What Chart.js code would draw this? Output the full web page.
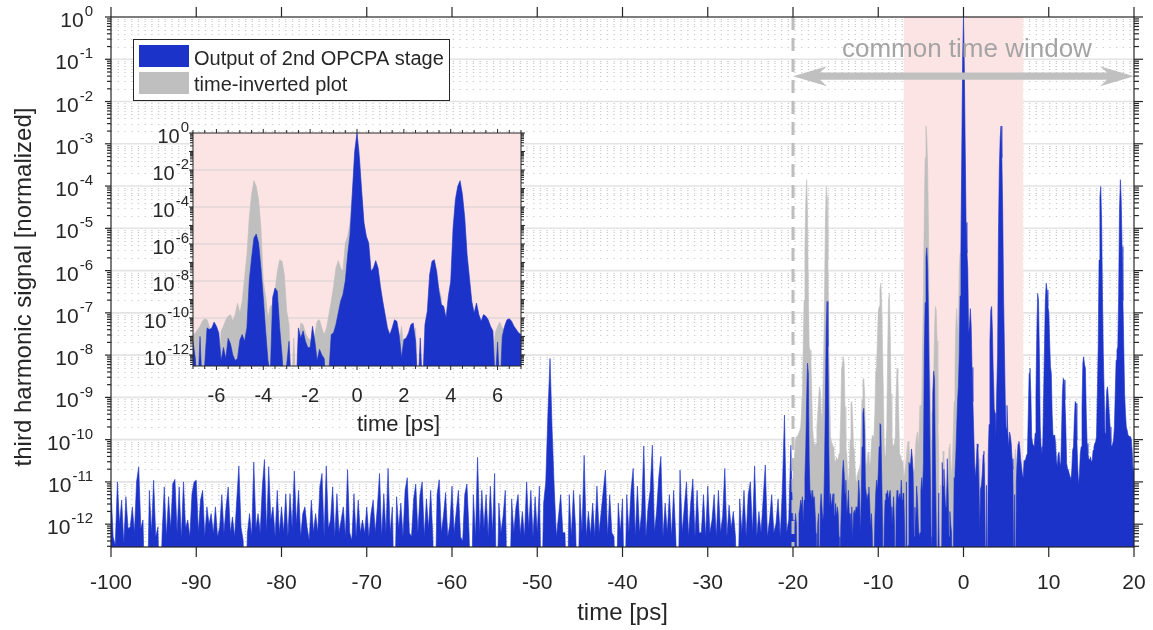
<!DOCTYPE html>
<html>
<head>
<meta charset="utf-8">
<script src="https://cdn.jsdelivr.net/npm/chart.js@4/dist/chart.umd.min.js"></script>
<style>
  html, body { margin: 0; padding: 0; background: #fff; }
  #wrap { position: relative; width: 1153px; height: 630px; }
  #wrap canvas { position: absolute; left: 0; top: 0; }
</style>
</head>
<body>
<div id="wrap">
  <canvas id="mainChart" width="1153" height="630"></canvas>
  <canvas id="insetChart" width="1153" height="630"></canvas>
</div>
<script>
// third harmonic signal, stored as log10 of the normalized value
// background part: -100 ps .. -20.25 ps, one value every 0.25 ps
const noiseStart = -100;
const noiseStep = 0.25;
const noiseExp = [
  -11.2, -12.3, -12.5, -11.0, -12.0, -11.43, -12.46, -11.35,      // -100
  -12.1, -12.07, -11.59, -12.2, -11.0, -10.64, -12.1, -11.9,      // -98
  -14, -14, -11.2, -12.2, -10.96, -12.3, -12.07, -14,             // -96
  -12.22, -11.12, -12.3, -11.35, -12.1, -11.04, -10.94, -12.2,    // -94
  -11.12, -12.35, -11.0, -12.1, -11.9, -12.3, -11.28, -11.0,      // -92
  -10.96, -12.2, -11.43, -11.2, -12.3, -11.59, -12.0, -11.75,     // -90
  -12.22, -11.59, -12.3, -12.07, -11.3, -12.2, -11.59, -11.12,    // -88
  -12.2, -11.83, -12.3, -11.43, -10.62, -12.07, -12.38, -14,      // -86
  -12.22, -11.75, -12.3, -10.53, -12.1, -11.75, -12.2, -11.12,    // -84
  -10.47, -12.2, -10.64, -11.9, -11.59, -12.3, -11.2, -12.22,     // -82
  -11.59, -12.2, -11.28, -12.3, -11.28, -12.1, -10.74, -12.0,     // -80
  -11.2, -12.3, -11.75, -11.59, -12.07, -12.38, -11.43, -12.2,    // -78
  -11.75, -12.2, -11.12, -10.8, -12.3, -10.62, -12.1, -11.9,      // -76
  -11.12, -12.3, -11.28, -12.2, -11.9, -11.59, -12.3, -10.71,     // -74
  -12.2, -12.38, -11.28, -12.3, -11.43, -12.2, -11.9, -12.22,     // -72
  -11.59, -12.3, -11.75, -11.43, -12.2, -11.59, -10.8, -12.3,     // -70
  -11.28, -12.2, -10.68, -12.22, -11.59, -14, -11.35, -12.1,      // -68
  -11.5, -12.3, -11.2, -10.9, -12.2, -12.3, -11.4, -11.05,        // -66
  -12.2, -11.3, -11.0, -12.3, -11.4, -12.1, -11.2, -12.3,         // -64
  -14, -11.3, -10.95, -12.2, -11.8, -11.25, -12.3, -12.0,         // -62
  -11.1, -12.2, -11.7, -11.2, -12.3, -12.4, -11.3, -11.05,        // -60
  -12.2, -14, -11.3, -12.3, -10.42, -12.2, -11.2, -12.1,          // -58
  -11.3, -12.3, -11.1, -12.2, -10.8, -14, -11.5, -12.2,           // -56
  -11.8, -11.2, -14, -14, -11.4, -12.2, -11.6, -11.3,             // -54
  -12.25, -11.7, -12.3, -11.0, -12.1, -11.2, -12.3, -11.35,       // -52
  -12.2, -11.1, -14, -11.5, -11.0, -9.4, -8.08, -9.8,             // -50
  -11.2, -12.3, -11.8, -11.3, -12.2, -12.2, -14, -11.3,           // -48
  -12.3, -11.2, -12.1, -14, -11.3, -12.2, -10.37, -12.3,          // -46
  -11.7, -12.25, -11.5, -12.3, -11.1, -12.2, -11.7, -11.2,        // -44
  -10.72, -12.3, -11.3, -12.2, -12.3, -14, -11.5, -12.2,          // -42
  -11.4, -14, -11.3, -12.2, -11.2, -10.68, -12.3, -11.1,          // -40
  -12.2, -11.7, -10.15, -12.3, -11.6, -11.2, -10.13, -12.2,       // -38
  -11.7, -10.9, -10.4, -12.3, -11.5, -12.2, -11.3, -12.3,         // -36
  -11.2, -12.3, -14, -10.72, -12.2, -11.6, -11.0, -12.3,          // -34
  -11.5, -10.93, -12.3, -11.2, -12.2, -12.2, -11.3, -12.3,        // -32
  -11.1, -12.2, -11.9, -11.3, -12.3, -11.2, -12.2, -11.8,         // -30
  -10.68, -12.3, -11.55, -12.1, -11.7, -12.3, -14, -11.4,         // -28
  -12.2, -11.2, -12.3, -11.3, -11.0, -12.2, -10.62, -12.3,        // -26
  -11.7, -12.2, -11.4, -10.6, -12.3, -11.9, -11.3, -12.2,         // -24
  -12.0, -11.4, -12.3, -11.2, -9.42, -12.2, -11.9, -10.13         // -22
];

// pulse part: -20 ps .. 20 ps, one value every 0.1 ps
const winStart = -20;
const winStep = 0.1;
const winExp = [
  -12.0, -11.9, -12.07, -11.75, -11.99, -14, -14, -11.75, -11.63, -11.43,      // -20
  -11.59, -11.35, -11.99, -11.43, -10.88, -10.17, -9.06, -8.19, -8.43, -10.49, // -19
  -11.28, -11.2, -11.43, -11.2, -11.43, -11.35, -11.75, -12.22, -14, -11.99,   // -18
  -11.75, -14, -11.59, -11.28, -11.28, -11.91, -11.75, -10.64, -9.06, -7.33,   // -17
  -6.73, -7.8, -10.17, -11.59, -11.28, -11.59, -11.43, -11.28, -11.75, -11.83, // -16
  -11.51, -11.83, -11.59, -11.75, -12.3, -14, -12.07, -11.43, -10.8, -10.49,   // -15
  -10.8, -11.28, -10.96, -11.75, -11.59, -11.2, -11.75, -11.75, -12.22, -11.59, // -14
  -12.38, -11.75, -11.67, -11.75, -11.59, -11.67, -11.59, -10.96, -11.28, -12.22, // -13
  -11.43, -10.17, -9.38, -9.26, -9.85, -11.12, -11.28, -11.43, -11.28, -11.12, // -12
  -11.51, -12.07, -11.75, -12.22, -14, -14, -11.91, -11.28, -10.96, -11.2,     // -11
  -10.8, -10.17, -9.62, -9.66, -10.8, -11.91, -14, -12.07, -11.43, -11.28,     // -10
  -11.28, -11.2, -11.43, -11.28, -11.2, -11.59, -12.07, -11.75, -11.35, -11.99, // -9
  -14, -11.59, -11.2, -11.28, -11.43, -11.28, -11.43, -10.96, -11.43, -11.28,  // -8
  -11.26, -12.2, -14, -11.0, -14, -12.5, -10.54, -10.63, -10.54, -10.22,       // -7
  -10.45, -10.8, -12.3, -11.6, -12.2, -11.1, -11.4, -12.0, -12.3, -12.2,       // -6
  -11.2, -10.9, -11.26, -10.54, -8.0, -6.76, -5.68, -5.46, -5.95, -7.3,        // -5
  -8.9, -10.7, -12.3, -13, -8.9, -8.38, -8.56, -10.54, -12.0, -14,             // -4
  -12.5, -11.26, -14, -14, -14, -10.54, -11.1, -10.7, -11.26, -11.6,           // -3
  -11.6, -10.45, -11.26, -12.3, -11.7, -12.0, -12.2, -14, -13, -10.9,          // -2
  -10.8, -10.36, -9.73, -9.1, -8.74, -8.0, -6.6, -5.5, -3.3, -1.0,             // -1
  0, -1.35, -3.15, -4.86, -5.59, -5.95, -7.48, -7.3, -6.9, -7.3,               // 0
  -8.29, -9.1, -9.82, -10.54, -10.9, -10.54, -10.1, -10.18, -10.9, -12.16,     // 1
  -11.17, -11.08, -10.81, -10.36, -10.27, -11.26, -14, -11.08, -14, -10.36,    // 2
  -9.64, -7.66, -6.94, -6.85, -7.48, -8.56, -9.28, -9.37, -10.0, -8.83,        // 3
  -8.02, -5.14, -3.6, -2.88, -2.58, -3.33, -4.59, -6.58, -7.84, -9.1,          // 4
  -9.73, -9.19, -9.82, -10.18, -9.82, -9.91, -10.1, -10.45, -10.7, -13.5,      // 5
  -11.3, -14, -11.0, -10.45, -10.1, -10.04, -10.18, -10.45, -10.63, -10.81,    // 6
  -10.9, -10.49, -10.52, -10.45, -10.37, -10.33, -9.38, -8.43, -8.31, -8.91,   // 7
  -9.93, -10.09, -10.13, -10.17, -9.85, -8.91, -7.48, -6.54, -6.7, -7.96,      // 8
  -9.7, -10.17, -10.37, -10.09, -8.91, -7.8, -6.7, -6.3, -6.46, -6.85,         // 9
  -6.97, -7.64, -8.27, -8.43, -9.38, -9.89, -9.93, -9.89, -10.09, -10.49,      // 10
  -10.64, -10.33, -10.29, -10.52, -10.64, -9.85, -8.91, -8.55, -8.59, -9.06,   // 11
  -9.7, -10.56, -10.68, -10.72, -10.8, -10.88, -11.0, -10.72, -10.25, -10.17,  // 12
  -9.54, -9.1, -9.14, -10.01, -10.64, -11.08, -10.8, -10.33, -10.17, -9.22,    // 13
  -8.19, -8.04, -8.23, -8.31, -9.38, -10.09, -10.33, -10.45, -10.49, -10.41,   // 14
  -10.52, -10.49, -10.25, -10.17, -10.09, -10.05, -9.93, -8.91, -7.8, -5.75,   // 15
  -4.25, -4.01, -4.8, -6.54, -7.96, -8.91, -9.85, -9.38, -8.83, -8.75,         // 16
  -9.06, -9.38, -9.7, -10.09, -10.17, -10.09, -10.01, -9.7, -8.91, -8.12,      // 17
  -7.88, -7.8, -6.54, -4.56, -3.85, -4.33, -5.43, -6.7, -7.8, -8.91,           // 18
  -9.38, -9.7, -9.78, -9.89, -9.89, -9.93, -9.93, -10.01, -10.33, -10.8,       // 19
  -10.64                                                                       // 20
];

const legendLabels = ['Output of 2nd OPCPA stage', 'time-inverted plot'];
const xTicks = [-100, -90, -80, -70, -60, -50, -40, -30, -20, -10, 0, 10, 20];
const yDecades = [0, -1, -2, -3, -4, -5, -6, -7, -8, -9, -10, -11, -12];
const insetXTicks = [-6, -4, -2, 0, 2, 4, 6];
const insetYDecades = [0, -2, -4, -6, -8, -10, -12];
const pinkWindow = [-7, 7];
const commonWindow = [-20, 20];
const arrowLabel = 'common time window';

const FONT = '"Liberation Sans", Arial, Helvetica, sans-serif';
const TEXT = '#262626';
const BLUE = '#1c33c9';
const GRAY = '#bfbfbf';
const PINK = '#fde4e4';

// ---- datasets ----
const winTimes = winExp.map((e, i) => Math.round((winStart + i * winStep) * 10) / 10);
const blueMain = noiseExp.map((e, i) => ({ x: noiseStart + i * noiseStep, y: Math.pow(10, e) }))
  .concat(winExp.map((e, i) => ({ x: winTimes[i], y: Math.pow(10, e) })));
// time-inverted: the same trace read backwards
const grayMain = winTimes.map((t, i) => ({ x: t, y: Math.pow(10, winExp[winExp.length - 1 - i]) }));

const i0 = Math.round((pinkWindow[0] - winStart) / winStep);
const i1 = Math.round((pinkWindow[1] - winStart) / winStep);
const insetBlue = winTimes.slice(i0, i1 + 1).map((t, k) => ({ x: t, y: Math.pow(10, winExp[i0 + k]) }));
const insetGray = winTimes.slice(i0, i1 + 1).map((t, k) => ({ x: t, y: Math.pow(10, winExp[i1 - k]) }));

function areaSet(data, color, order) {
  return {
    data: data, borderColor: color, backgroundColor: color,
    borderWidth: 0.6, pointRadius: 0, fill: 'start', tension: 0, order: order
  };
}

function seg(ctx, x0, y0, x1, y1) {
  ctx.beginPath();
  ctx.moveTo(x0, y0);
  ctx.lineTo(x1, y1);
  ctx.stroke();
}

// "10" with a raised exponent, right aligned
function powLabel(ctx, exp, xRight, yMid, baseSize, expSize) {
  const ex = String(exp);
  ctx.font = baseSize + 'px ' + FONT;
  const wb = ctx.measureText('10').width;
  ctx.font = expSize + 'px ' + FONT;
  const we = ctx.measureText(ex).width;
  const x0 = xRight - we - wb - 1;
  const base = yMid + baseSize * 0.48;
  ctx.textAlign = 'left';
  ctx.textBaseline = 'alphabetic';
  ctx.font = baseSize + 'px ' + FONT;
  ctx.fillText('10', x0, base);
  ctx.font = expSize + 'px ' + FONT;
  ctx.fillText(ex, x0 + wb + 1, base - baseSize * 0.52);
}

function logTicks(ctx, y, a, lenL, lenLmin, lenR, lenRmin) {
  for (let d = -13; d <= 0; d++) {
    for (let k = 1; k <= 9; k++) {
      const v = k * Math.pow(10, d);
      if (v < y.min * 0.999 || v > y.max * 1.001) continue;
      const py = y.getPixelForValue(v);
      const major = k === 1;
      seg(ctx, a.left - (major ? lenL : lenLmin), py, a.left, py);
      seg(ctx, a.right, py, a.right + (major ? lenR : lenRmin), py);
    }
  }
}

// ---- main chart decorations ----
const mainDecor = {
  id: 'mainDecor',
  beforeDatasetsDraw(chart) {
    const { ctx, chartArea: a, scales: { x, y } } = chart;
    ctx.save();
    // minor grid, dotted
    ctx.strokeStyle = '#c9c9c9';
    ctx.lineWidth = 1;
    ctx.setLineDash([1.3, 5.4]);
    for (let d = -13; d < 0; d++) {
      for (let k = 2; k <= 9; k++) {
        const v = k * Math.pow(10, d);
        if (v < y.min || v > y.max) continue;
        const py = Math.round(y.getPixelForValue(v)) + 0.5;
        seg(ctx, a.left, py, a.right, py);
      }
    }
    ctx.setLineDash([]);
    ctx.strokeStyle = '#e3e3e3';
    ctx.lineWidth = 1.6;
    yDecades.forEach(d => {
      if (d === 0) return;
      const py = y.getPixelForValue(Math.pow(10, d));
      seg(ctx, a.left, py, a.right, py);
    });
    // pulse window
    const p0 = x.getPixelForValue(pinkWindow[0]);
    const p1 = x.getPixelForValue(pinkWindow[1]);
    ctx.fillStyle = PINK;
    ctx.fillRect(p0, a.top, p1 - p0, a.bottom - a.top);
    ctx.restore();
  },
  afterDatasetsDraw(chart) {
    const { ctx, chartArea: a, scales: { x, y } } = chart;
    ctx.save();

    // left edge of the common window
    const xd = x.getPixelForValue(commonWindow[0]);
    ctx.strokeStyle = '#bdbdbd';
    ctx.lineWidth = 3;
    ctx.setLineDash([13, 8]);
    seg(ctx, xd, a.top, xd, a.bottom);
    ctx.setLineDash([]);

    // double arrow
    const ay = y.getPixelForValue(Math.pow(10, -1.4));
    const ax0 = x.getPixelForValue(commonWindow[0]);
    const ax1 = x.getPixelForValue(commonWindow[1]);
    const hl = 34, hw = 10, sw = 3.6, nb = 27;
    ctx.fillStyle = '#c0c0c0';
    ctx.beginPath();
    ctx.moveTo(ax0, ay);
    ctx.lineTo(ax0 + hl, ay - hw);
    ctx.lineTo(ax0 + nb, ay - sw);
    ctx.lineTo(ax1 - nb, ay - sw);
    ctx.lineTo(ax1 - hl, ay - hw);
    ctx.lineTo(ax1, ay);
    ctx.lineTo(ax1 - hl, ay + hw);
    ctx.lineTo(ax1 - nb, ay + sw);
    ctx.lineTo(ax0 + nb, ay + sw);
    ctx.lineTo(ax0 + hl, ay + hw);
    ctx.closePath();
    ctx.fill();

    ctx.fillStyle = '#a4a4a4';
    ctx.font = '26px ' + FONT;
    ctx.textAlign = 'center';
    ctx.textBaseline = 'alphabetic';
    ctx.fillText(arrowLabel, x.getPixelForValue(0.4), y.getPixelForValue(Math.pow(10, -0.95)));

    // legend
    const lx = a.left + 22, ly = a.top + 22, lw = 316, lh = 61;
    ctx.fillStyle = '#fff';
    ctx.fillRect(lx, ly, lw, lh);
    ctx.strokeStyle = TEXT;
    ctx.lineWidth = 1;
    ctx.strokeRect(lx + 0.5, ly + 0.5, lw, lh);
    [BLUE, GRAY].forEach((c, i) => {
      ctx.fillStyle = c;
      ctx.fillRect(lx + 6, ly + 6 + i * 27, 50, 22);
      ctx.fillStyle = TEXT;
      ctx.font = '20px ' + FONT;
      ctx.textAlign = 'left';
      ctx.fillText(legendLabels[i], lx + 61, ly + 25.5 + i * 26.5);
    });

    // box and ticks
    ctx.strokeStyle = TEXT;
    ctx.lineWidth = 1.2;
    ctx.strokeRect(a.left, a.top, a.right - a.left, a.bottom - a.top);
    xTicks.forEach(t => {
      const px = x.getPixelForValue(t);
      seg(ctx, px, a.bottom, px, a.bottom + 10);
      seg(ctx, px, a.top, px, a.top - 10);
    });
    logTicks(ctx, y, a, 6, 4, 9, 5);

    // tick labels
    ctx.fillStyle = TEXT;
    ctx.font = '21px ' + FONT;
    ctx.textAlign = 'center';
    ctx.textBaseline = 'alphabetic';
    xTicks.forEach(t => ctx.fillText(String(t), x.getPixelForValue(t), 589));
    yDecades.forEach(d => powLabel(ctx, d, 93, y.getPixelForValue(Math.pow(10, d)), 21, 15));

    // axis titles
    ctx.font = '24px ' + FONT;
    ctx.textAlign = 'center';
    ctx.fillText('time [ps]', (a.left + a.right) / 2, 620);
    ctx.translate(31, (a.top + a.bottom) / 2 + 5);
    ctx.rotate(-Math.PI / 2);
    ctx.fillText('third harmonic signal [normalized]', 0, 0);
    ctx.restore();
  }
};

// ---- inset decorations ----
const insetDecor = {
  id: 'insetDecor',
  beforeDatasetsDraw(chart) {
    const { ctx, chartArea: a, scales: { y } } = chart;
    ctx.save();
    ctx.fillStyle = PINK;
    ctx.fillRect(a.left, a.top, a.right - a.left, a.bottom - a.top);
    ctx.strokeStyle = 'rgba(205,205,205,0.6)';
    ctx.lineWidth = 1.5;
    insetYDecades.forEach(d => {
      if (d === 0) return;
      const py = y.getPixelForValue(Math.pow(10, d));
      seg(ctx, a.left, py, a.right, py);
    });
    ctx.restore();
  },
  afterDatasetsDraw(chart) {
    const { ctx, chartArea: a, scales: { x, y } } = chart;
    ctx.save();
    ctx.strokeStyle = TEXT;
    ctx.lineWidth = 1;
    ctx.strokeRect(a.left, a.top, a.right - a.left, a.bottom - a.top);
    for (let t = pinkWindow[0]; t <= pinkWindow[1]; t += 0.5) {
      const px = x.getPixelForValue(t);
      const len = Number.isInteger(t / 2) ? 4 : 3;
      seg(ctx, px, a.bottom, px, a.bottom + len);
      seg(ctx, px, a.top, px, a.top - len);
    }
    logTicks(ctx, y, a, 4, 3, 4, 3);

    ctx.fillStyle = TEXT;
    ctx.font = '20px ' + FONT;
    ctx.textAlign = 'center';
    ctx.textBaseline = 'alphabetic';
    insetXTicks.forEach(t => ctx.fillText(String(t), x.getPixelForValue(t), 402));
    insetYDecades.forEach(d => powLabel(ctx, d, 189, y.getPixelForValue(Math.pow(10, d)), 20, 15));
    ctx.font = '22px ' + FONT;
    ctx.fillText('time [ps]', (a.left + a.right) / 2, 431);
    ctx.restore();
  }
};

Chart.defaults.font.family = FONT;
Chart.defaults.color = TEXT;

new Chart(document.getElementById('mainChart'), {
  type: 'line',
  data: { datasets: [areaSet(blueMain, BLUE, 0), areaSet(grayMain, GRAY, 1)] },
  options: {
    responsive: false,
    animation: false,
    events: [],
    layout: { padding: { left: 111, right: 19, top: 17, bottom: 83 } },
    plugins: { legend: { display: false }, tooltip: { enabled: false } },
    scales: {
      x: { type: 'linear', min: -100, max: 20, display: false },
      y: { type: 'logarithmic', min: Math.pow(10, -12.54), max: 1, display: false }
    }
  },
  plugins: [mainDecor]
});

new Chart(document.getElementById('insetChart'), {
  type: 'line',
  data: { datasets: [areaSet(insetBlue, BLUE, 0), areaSet(insetGray, GRAY, 1)] },
  options: {
    responsive: false,
    animation: false,
    events: [],
    layout: { padding: { left: 193, right: 632, top: 133, bottom: 264 } },
    plugins: { legend: { display: false }, tooltip: { enabled: false } },
    scales: {
      x: { type: 'linear', min: pinkWindow[0], max: pinkWindow[1], display: false },
      y: { type: 'logarithmic', min: Math.pow(10, -12.6), max: 1, display: false }
    }
  },
  plugins: [insetDecor]
});
</script>
</body>
</html>
